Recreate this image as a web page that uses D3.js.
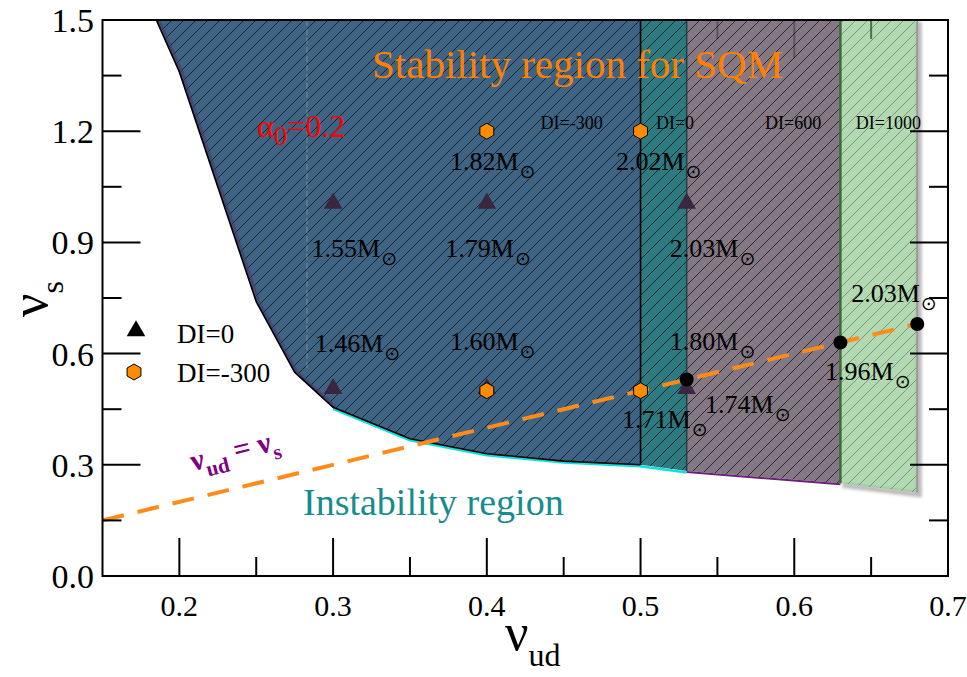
<!DOCTYPE html>
<html>
<head>
<meta charset="utf-8">
<script src="https://cdn.jsdelivr.net/npm/d3@7"></script>
<style>
  body { margin: 0; background: #fff; }
  svg { display: block; font-family: "Liberation Serif", "Times New Roman", serif; }
</style>
</head>
<body>
<svg id="chart" width="967" height="677"></svg>
<script>
// Lower edge of the SQM stability window (nu_ud, nu_s)
const boundaryNuUd = [0.185, 0.2, 0.25, 0.275, 0.3, 0.35, 0.4, 0.45, 0.5, 0.53, 0.63, 0.68];
const boundaryNuS  = [1.5, 1.36, 0.74, 0.55, 0.455, 0.37, 0.33, 0.31, 0.30, 0.283, 0.25, 0.225];

// DI bands: right-hand limit of each band in nu_ud
const bandNames  = ["DI=-300", "DI=0", "DI=600", "DI=1000"];
const bandLimits = [0.5, 0.53, 0.63, 0.68];

// Parameter sets of the computed stars
const triNuUd = [0.3, 0.4, 0.53, 0.3, 0.4, 0.53];
const triNuS  = [1.0, 1.0, 1.0, 0.5, 0.5, 0.5];
const hexNuUd = [0.4, 0.5, 0.4, 0.5];
const hexNuS  = [1.2, 1.2, 0.5, 0.5];
const dotNuUd = [0.53, 0.63, 0.68];
const dotNuS  = [0.53, 0.63, 0.68];

// Maximum masses (solar masses) and where their labels sit
const massValues = ["1.82", "2.02", "1.55", "1.79", "2.03", "1.46", "1.60", "1.80", "2.03", "1.96", "1.71", "1.74"];
const massNuUd   = [0.376, 0.484, 0.286, 0.373, 0.519, 0.288, 0.376, 0.519, 0.637, 0.620, 0.488, 0.542];
const massNuS    = [1.095, 1.095, 0.861, 0.861, 0.861, 0.604, 0.610, 0.610, 0.739, 0.529, 0.399, 0.440];

// Axis ticks
const xMajor = [0.2, 0.3, 0.4, 0.5, 0.6, 0.7];
const xMinor = [0.25, 0.35, 0.45, 0.55, 0.65];
const yMajor = [0.0, 0.3, 0.6, 0.9, 1.2, 1.5];
const yMinor = [0.15, 0.45, 0.75, 1.05, 1.35];

const svg = d3.select("#chart");
const x = d3.scaleLinear().domain([0.15, 0.7]).range([102.5, 948]);
const y = d3.scaleLinear().domain([0, 1.5]).range([576, 20]);

const defs = svg.append("defs");
defs.append("clipPath").attr("id", "plot-clip")
  .append("rect").attr("x", x(0.15)).attr("y", y(1.5))
  .attr("width", x(0.7) - x(0.15)).attr("height", y(0) - y(1.5));

function hatch(id, color, opacity) {
  const p = defs.append("pattern").attr("id", id)
    .attr("patternUnits", "userSpaceOnUse").attr("width", 12).attr("height", 12);
  p.append("path").attr("d", "M0,12L12,0M-3,3L3,-3M9,15L15,9")
    .attr("stroke", color).attr("stroke-width", 0.9).attr("stroke-opacity", opacity);
}
hatch("hatch-dark", "#000", 0.7);
hatch("hatch-light", "#2f4f2f", 0.5);

const blur = defs.append("filter").attr("id", "soft").attr("x", "-20%").attr("y", "-20%")
  .attr("width", "140%").attr("height", "140%");
blur.append("feGaussianBlur").attr("stdDeviation", 1.5);

const boundary = boundaryNuUd.map((v, i) => [v, boundaryNuS[i]]);
function boundaryBetween(a, b) { return boundary.filter(d => d[0] >= a - 1e-9 && d[0] <= b + 1e-9); }

const bandFill = ["#3e6383", "#2d7a80", "#6f606e", "#7fc07f"];
const bandOpacity = [1, 1, 0.85, 0.6];

const plot = svg.append("g").attr("clip-path", "url(#plot-clip)");

// Inner ticks on the top edge sit under the translucent bands
const tickLayer = plot.append("g").attr("stroke", "#000").attr("stroke-width", 2);
xMajor.forEach(v => tickLayer.append("line").attr("x1", x(v)).attr("x2", x(v)).attr("y1", y(1.5)).attr("y2", y(1.5) + 38));
xMinor.forEach(v => tickLayer.append("line").attr("x1", x(v)).attr("x2", x(v)).attr("y1", y(1.5)).attr("y2", y(1.5) + 19));

const area = d3.area().x(d => x(d[0])).y0(d => y(d[1])).y1(y(1.5));
const line = d3.line().x(d => x(d[0])).y(d => y(d[1]));

// Shadow around the DI=1000 band
const lastBand = boundaryBetween(bandLimits[2], bandLimits[3]);
plot.append("path")
  .attr("d", line(lastBand.concat([[bandLimits[3], 1.5]])))
  .attr("fill", "none").attr("stroke", "#8c8c8c").attr("stroke-opacity", 0.6)
  .attr("stroke-width", 5).attr("filter", "url(#soft)")
  .attr("transform", "translate(2,2)");

bandLimits.forEach((lim, i) => {
  const lo = i === 0 ? boundaryNuUd[0] : bandLimits[i - 1];
  const pts = boundaryBetween(lo, lim);
  plot.append("path").attr("d", area(pts))
    .attr("fill", bandFill[i]).attr("fill-opacity", bandOpacity[i]);
  plot.append("path").attr("d", area(pts))
    .attr("fill", i === 3 ? "url(#hatch-light)" : "url(#hatch-dark)");
});

// Band edges
plot.append("path").attr("d", line(boundaryBetween(0.29, 0.53)))
  .attr("fill", "none").attr("stroke", "#10e0e0").attr("stroke-width", 2.5)
  .attr("transform", "translate(0,1.5)");
plot.append("path").attr("d", line(boundaryBetween(0.53, 0.63)))
  .attr("fill", "none").attr("stroke", "#6a1f78").attr("stroke-width", 2)
  .attr("transform", "translate(0,1)");
plot.append("path").attr("d", line(boundaryBetween(0.185, 0.3)))
  .attr("fill", "none").attr("stroke", "#4a3a6a").attr("stroke-width", 4)
  .attr("transform", "translate(2,0)").attr("stroke-opacity", 0.6);
plot.append("path").attr("d", line(boundaryBetween(0.185, 0.5)))
  .attr("fill", "none").attr("stroke", "#000").attr("stroke-width", 1.6);

const edgeColors = ["#000", "#1f3f44", "#3d6a3d", "#9a9a9a"];
const edgeWidths = [1.6, 1.5, 2.5, 2];
bandLimits.forEach((lim, i) => {
  const yb = boundary.find(d => Math.abs(d[0] - lim) < 1e-9)[1];
  plot.append("line").attr("x1", x(lim)).attr("x2", x(lim))
    .attr("y1", y(yb)).attr("y2", y(1.5))
    .attr("stroke", edgeColors[i]).attr("stroke-width", edgeWidths[i]);
});

// Faint dashed guide inside the DI=-300 band
plot.append("line").attr("x1", x(0.283)).attr("x2", x(0.283))
  .attr("y1", y(1.5)).attr("y2", y(0.56))
  .attr("stroke", "#ffffff").attr("stroke-opacity", 0.18)
  .attr("stroke-width", 1.5).attr("stroke-dasharray", "6,3");

// Stars with DI=0 (tinted by the bands)
const triSym = d3.symbol().type(d3.symbolTriangle).size(150);
triNuUd.forEach((v, i) => {
  plot.append("path").attr("d", triSym())
    .attr("transform", `translate(${x(v)},${y(triNuS[i]) - 2})`)
    .attr("fill", "#3b2640");
});

// nu_ud = nu_s line
plot.append("path").attr("d", line([[0.15, 0.15], [0.68, 0.68]]))
  .attr("fill", "none").attr("stroke", "#ff8c1a").attr("stroke-width", 4)
  .attr("stroke-dasharray", "22,14");

function hexagon(r) {
  const pts = d3.range(6).map(k => {
    const a = Math.PI / 6 + k * Math.PI / 3;
    return [r * Math.cos(a), r * Math.sin(a)];
  });
  return "M" + pts.map(p => p.join(",")).join("L") + "Z";
}
hexNuUd.forEach((v, i) => {
  plot.append("path").attr("d", hexagon(8))
    .attr("transform", `translate(${x(v)},${y(hexNuS[i])})`)
    .attr("fill", "#ff8c00").attr("stroke", "#000").attr("stroke-width", 1);
});

dotNuUd.forEach((v, i) => {
  plot.append("circle").attr("cx", x(v)).attr("cy", y(dotNuS[i])).attr("r", 7)
    .attr("fill", "#000");
});

// Mass labels
massValues.forEach((m, i) => {
  const t = svg.append("text").attr("x", x(massNuUd[i])).attr("y", y(massNuS[i]))
    .attr("font-size", 26).attr("fill", "#000");
  t.append("tspan").text(m + "M");
  t.append("tspan").text("\u2299").attr("font-family", "DejaVu Sans")
    .attr("font-size", 19).attr("dx", 1).attr("dy", 8);
});

// DI band labels
const diX = [0.435, 0.51, 0.581, 0.64];
bandNames.forEach((n, i) => {
  svg.append("text").attr("x", x(diX[i])).attr("y", y(1.205))
    .attr("font-size", 18).attr("fill", "#000").text(n);
});

// Region titles
svg.append("text").attr("x", 372).attr("y", 78).attr("font-size", 41)
  .attr("fill", "#ff8000").text("Stability region for SQM");
svg.append("text").attr("x", 303).attr("y", 515).attr("font-size", 38)
  .attr("fill", "#168c8c").text("Instability region");

const alpha = svg.append("text").attr("x", 257).attr("y", 137).attr("font-size", 32).attr("fill", "#ff0000");
alpha.append("tspan").text("\u03b1");
alpha.append("tspan").text("0").attr("font-size", 27).attr("dy", 8);
alpha.append("tspan").text("=0.2").attr("dy", -8);

const eq = svg.append("text").attr("transform", `translate(193,471) rotate(-14)`)
  .attr("font-size", 30).attr("font-weight", "bold").attr("fill", "#800080");
eq.append("tspan").text("\u03bd");
eq.append("tspan").text("ud").attr("font-size", 21).attr("dy", 9);
eq.append("tspan").text(" = ").attr("dy", -9);
eq.append("tspan").text("\u03bd");
eq.append("tspan").text("s").attr("font-size", 21).attr("dy", 9);

// Legend
svg.append("path").attr("d", triSym()).attr("transform", "translate(136,331)").attr("fill", "#000");
svg.append("path").attr("d", hexagon(8)).attr("transform", "translate(134,372)")
  .attr("fill", "#ff8c00").attr("stroke", "#000").attr("stroke-width", 1);
svg.append("text").attr("x", 177).attr("y", 343).attr("font-size", 27).text("DI=0");
svg.append("text").attr("x", 177).attr("y", 382).attr("font-size", 27).text("DI=-300");

// Frame and remaining inner ticks
const frame = svg.append("g").attr("stroke", "#000").attr("stroke-width", 2).attr("fill", "none");
frame.append("rect").attr("x", x(0.15)).attr("y", y(1.5))
  .attr("width", x(0.7) - x(0.15)).attr("height", y(0) - y(1.5));
xMajor.forEach(v => frame.append("line").attr("x1", x(v)).attr("x2", x(v)).attr("y1", y(0)).attr("y2", y(0) - 38));
xMinor.forEach(v => frame.append("line").attr("x1", x(v)).attr("x2", x(v)).attr("y1", y(0)).attr("y2", y(0) - 19));
yMajor.forEach(v => {
  frame.append("line").attr("x1", x(0.15)).attr("x2", x(0.15) + 38).attr("y1", y(v)).attr("y2", y(v));
  frame.append("line").attr("x1", x(0.7)).attr("x2", x(0.7) - 38).attr("y1", y(v)).attr("y2", y(v));
});
yMinor.forEach(v => {
  frame.append("line").attr("x1", x(0.15)).attr("x2", x(0.15) + 19).attr("y1", y(v)).attr("y2", y(v));
  frame.append("line").attr("x1", x(0.7)).attr("x2", x(0.7) - 19).attr("y1", y(v)).attr("y2", y(v));
});

// Tick labels
xMajor.forEach(v => {
  svg.append("text").attr("x", x(v)).attr("y", 616).attr("text-anchor", "middle")
    .attr("font-size", 30).text(d3.format(".1f")(v));
});
yMajor.forEach(v => {
  svg.append("text").attr("x", 94).attr("y", y(v) + 12).attr("text-anchor", "end")
    .attr("font-size", 34).text(d3.format(".1f")(v));
});

// Axis titles
const xt = svg.append("text").attr("x", 505).attr("y", 650).attr("font-size", 52);
xt.append("tspan").text("\u03bd");
xt.append("tspan").text("ud").attr("font-size", 32).attr("dy", 16);

const yt = svg.append("text").attr("transform", "translate(47,317) rotate(-90)").attr("font-size", 52);
yt.append("tspan").text("\u03bd");
yt.append("tspan").text("s").attr("font-size", 32).attr("dy", 16);
</script>
</body>
</html>
